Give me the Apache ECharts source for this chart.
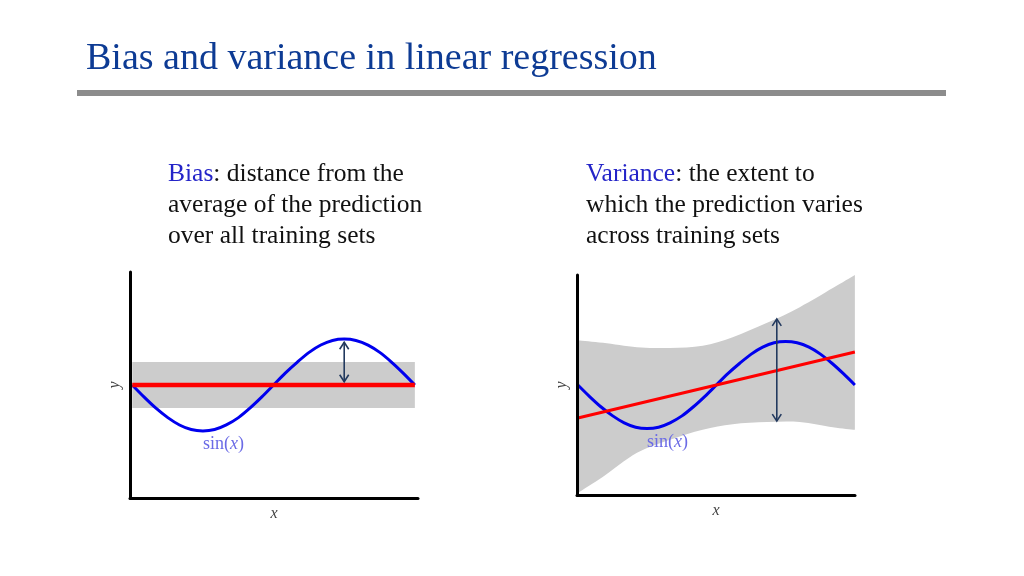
<!DOCTYPE html>
<html>
<head>
<meta charset="utf-8">
<script src="https://cdn.jsdelivr.net/npm/echarts@6/dist/echarts.min.js"></script>
<style>
html,body{margin:0;padding:0;background:#fff;}
#chart{width:1024px;height:576px;}
</style>
</head>
<body>
<div id="chart"></div>
<script>
// ---------- data ----------
const titleText = 'Bias and variance in linear regression';
const biasLines = ['{b|Bias}: distance from the', 'average of the prediction', 'over all training sets'];
const varLines = ['{b|Variance}: the extent to', 'which the prediction varies', 'across training sets'];

const sineX = [0, 0.26, 0.52, 0.79, 1.05, 1.31, 1.57, 1.83, 2.09, 2.36, 2.62, 2.88, 3.14,
               3.40, 3.67, 3.93, 4.19, 4.45, 4.71, 4.97, 5.24, 5.50, 5.76, 6.02, 6.28];
const sineY = [0, -0.26, -0.5, -0.71, -0.87, -0.97, -1.0, -0.97, -0.87, -0.71, -0.5, -0.26, 0,
               0.26, 0.5, 0.71, 0.87, 0.97, 1.0, 0.97, 0.87, 0.71, 0.5, 0.26, 0];

// left panel (bias)
const leftFitX = [0, 6.28];
const leftFitY = [0, 0];
const leftBandX = [0, 6.28];
const leftBandUpper = [0.5, 0.5];
const leftBandLower = [-0.5, -0.5];
const leftArrow = [4.71, 0.93, 0.07];

// right panel (variance)
const rightFitX = [0, 6.28];
const rightFitY = [-0.76, 0.76];
const rightBandX = [0, 0.57, 1.34, 2.09, 2.83, 3.51, 4.29, 5.03, 5.78, 6.28];
const rightBandUpper = [1.03, 0.97, 0.87, 0.85, 0.90, 1.10, 1.43, 1.79, 2.23, 2.53];
const rightBandLower = [-2.48, -2.11, -1.56, -1.26, -1.03, -0.90, -0.85, -0.85, -0.97, -1.03];
const rightArrow = [4.51, 1.52, -0.83];

const sinLabel = '{n|sin(}{i|x}{n|)}';

// ---------- helpers ----------
const pairs = (xs, ys) => xs.map((x, k) => [x, ys[k]]);
const serif = 'Liberation Serif, Times New Roman, serif';
const arrowColor = '#22395e';

// smooth path (Catmull-Rom -> cubic Bezier) through pixel points
function curveCmds(pts, startCmd) {
  let d = startCmd + pts[0][0] + ' ' + pts[0][1];
  for (let i = 0; i < pts.length - 1; i++) {
    const p0 = pts[Math.max(0, i - 1)], p1 = pts[i], p2 = pts[i + 1], p3 = pts[Math.min(pts.length - 1, i + 2)];
    const c1 = [p1[0] + (p2[0] - p0[0]) / 6, p1[1] + (p2[1] - p0[1]) / 6];
    const c2 = [p2[0] - (p3[0] - p1[0]) / 6, p2[1] - (p3[1] - p1[1]) / 6];
    d += ' C' + c1[0] + ' ' + c1[1] + ' ' + c2[0] + ' ' + c2[1] + ' ' + p2[0] + ' ' + p2[1];
  }
  return d;
}
function bandSeries(idx, xs, lo, hi) {
  return {type: 'custom', xAxisIndex: idx, yAxisIndex: idx, silent: true, z: 1,
    data: xs.map((x, k) => [x, lo[k], hi[k]]), encode: {x: 0, y: [1, 2]},
    renderItem: function (params, api) {
      if (params.dataIndex !== 0) return null;
      const up = xs.map((x, k) => api.coord([x, hi[k]]));
      const dn = xs.map((x, k) => api.coord([x, lo[k]])).reverse();
      const d = curveCmds(up, 'M') + ' ' + curveCmds(dn, 'L') + ' Z';
      return {type: 'path', shape: {pathData: d}, style: {fill: '#cccccc', stroke: null}};
    }};
}
function lineSeries(idx, xs, ys, color, width, smooth) {
  return {type: 'line', xAxisIndex: idx, yAxisIndex: idx, data: pairs(xs, ys), symbol: 'none', z: 2,
    smooth: smooth, silent: true, lineStyle: {color: color, width: width}};
}
function arrowSeries(idx, a) {
  return {type: 'custom', xAxisIndex: idx, yAxisIndex: idx, silent: true, z: 3, data: [a],
    encode: {x: 0, y: [1, 2]},
    renderItem: function (params, api) {
      const p1 = api.coord([api.value(0), api.value(1)]);
      const p2 = api.coord([api.value(0), api.value(2)]);
      const st = {stroke: arrowColor, lineWidth: 1.6, fill: null};
      return {type: 'group', children: [
        {type: 'line', shape: {x1: p1[0], y1: p1[1], x2: p2[0], y2: p2[1]}, style: st},
        {type: 'polyline', shape: {points: [[p1[0] - 4.5, p1[1] + 7], [p1[0], p1[1]], [p1[0] + 4.5, p1[1] + 7]]}, style: st},
        {type: 'polyline', shape: {points: [[p2[0] - 4.5, p2[1] - 7], [p2[0], p2[1]], [p2[0] + 4.5, p2[1] - 7]]}, style: st}
      ]};
    }};
}
function axisX(idx, min, max) {
  return {type: 'value', gridIndex: idx, min: min, max: max, z: 10, name: 'x', nameLocation: 'middle', nameGap: 8,
    nameTextStyle: {fontFamily: serif, fontStyle: 'italic', fontSize: 16, color: '#444'},
    axisLine: {show: true, onZero: false, lineStyle: {color: '#000', width: 3}},
    axisTick: {show: false}, axisLabel: {show: false}, splitLine: {show: false}};
}
function axisY(idx, min, max) {
  return {type: 'value', gridIndex: idx, min: min, max: max, z: 10, name: 'y', nameLocation: 'middle', nameGap: 7,
    nameTextStyle: {fontFamily: serif, fontStyle: 'italic', fontSize: 16, color: '#444'},
    axisLine: {show: true, onZero: false, lineStyle: {color: '#000', width: 3}},
    axisTick: {show: false}, axisLabel: {show: false}, splitLine: {show: false}};
}
function textLines(x, ys, lines) {
  return lines.map((t, k) => ({type: 'text', x: x, y: ys[k], z: 20,
    style: {text: t, fontFamily: serif, fontSize: 25.5, fill: '#111', verticalAlign: 'middle',
      rich: {b: {fill: '#2424c8', fontFamily: serif, fontSize: 25.5}}}}));
}
const sinRich = {n: {fontFamily: serif, fontSize: 18, fill: '#6b6be6'},
                 i: {fontFamily: serif, fontSize: 18, fontStyle: 'italic', fill: '#6b6be6'}};

const chart = echarts.init(document.getElementById('chart'), null, {renderer: 'canvas'});
chart.setOption({
  animation: false,
  backgroundColor: '#fff',
  grid: [
    {left: 130, top: 272, width: 288, height: 226},
    {left: 577, top: 275, width: 278, height: 220}
  ],
  xAxis: [axisX(0, -0.05, 6.35), axisX(1, -0.02, 6.283)],
  yAxis: [axisY(0, -2.46, 2.46), axisY(1, -2.53, 2.53)],
  series: [
    bandSeries(0, leftBandX, leftBandLower, leftBandUpper),
    lineSeries(0, sineX, sineY, '#0000ee', 3, 0.3),
    lineSeries(0, leftFitX, leftFitY, '#ff0000', 4.5, false),
    arrowSeries(0, leftArrow),
    bandSeries(1, rightBandX, rightBandLower, rightBandUpper),
    lineSeries(1, sineX, sineY, '#0000ee', 3, 0.3),
    lineSeries(1, rightFitX, rightFitY, '#ff0000', 3, false),
    arrowSeries(1, rightArrow)
  ],
  graphic: [
    {type: 'text', x: 86, y: 59, z: 20, style: {text: titleText, fontFamily: serif, fontSize: 38, fill: '#0d3b94', verticalAlign: 'middle'}},
    {type: 'rect', z: 20, shape: {x: 77, y: 90, width: 869, height: 6}, style: {fill: '#8c8c8c'}},
    ...textLines(168, [174, 205, 236], biasLines),
    ...textLines(586, [174, 205, 236], varLines),
    {type: 'text', z: 20, left: 203, top: 435, style: {text: sinLabel, rich: sinRich}},
    {type: 'text', z: 20, left: 647, top: 433, style: {text: sinLabel, rich: sinRich}}
  ]
});
</script>
</body>
</html>
